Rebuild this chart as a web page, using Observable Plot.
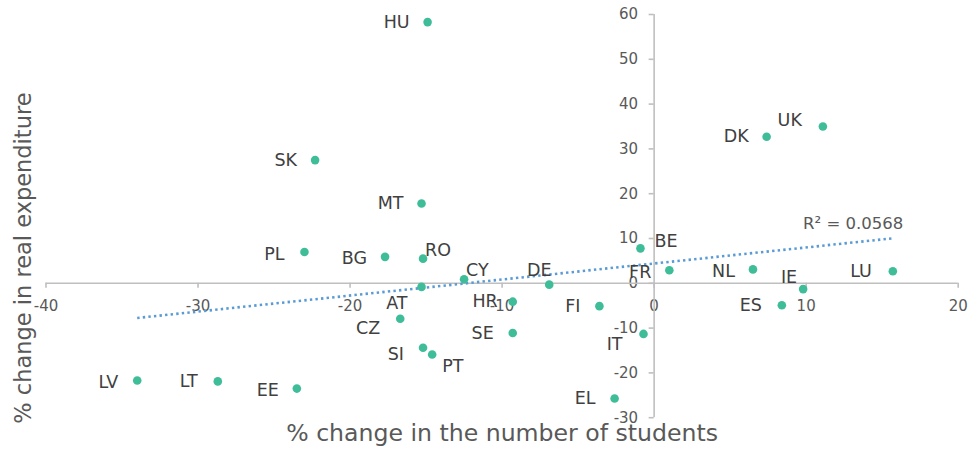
<!DOCTYPE html>
<html>
<head>
<meta charset="utf-8">
<script src="https://cdn.jsdelivr.net/npm/d3@7"></script>
<script src="https://cdn.jsdelivr.net/npm/@observablehq/plot@0.6"></script>
<style>
  html, body { margin: 0; padding: 0; background: #ffffff; }
  #chart { width: 969px; height: 453px; overflow: hidden; }
</style>
</head>
<body>
<div id="chart"></div>
<script>
// ---- Data ----
const countries = ["HU","SK","MT","DK","UK","PL","BG","RO","CY","AT","CZ","SI","PT","LV","LT","EE","HR","SE","DE","FI","BE","FR","IT","EL","NL","IE","ES","LU"];
const studentsChange = [-14.9,-22.3,-15.3,7.4,11.1,-23.0,-17.7,-15.2,-12.5,-15.3,-16.7,-15.2,-14.6,-34.0,-28.7,-23.5,-9.3,-9.3,-6.9,-3.6,-0.9,1.0,-0.7,-2.6,6.5,9.8,8.4,15.7];
const expenditureChange = [58.3,27.5,17.8,32.7,35.0,7.0,5.9,5.5,0.9,-0.8,-7.9,-14.4,-15.9,-21.7,-21.9,-23.5,-4.1,-11.1,-0.3,-5.1,7.8,2.9,-11.3,-25.7,3.1,-1.3,-4.9,2.7];
const xTickValues = [-40,-30,-20,-10,0,10,20];
const yTickValues = [-30,-20,-10,0,10,20,30,40,50,60];
const xTitle = "% change in the number of students";
const yTitle = "% change in real expenditure";
const r2Label = "R² = 0.0568";

// ---- Label placement (layout only) ----
const labelPlacement = {
  HU:["end",-18,0], SK:["end",-18,0], MT:["end",-18,0], DK:["end",-18,0],
  UK:["end",-21,-6], PL:["end",-20,2], BG:["end",-18,2], RO:["start",2,-8],
  CY:["start",2,-9], AT:["end",-14,17], CZ:["end",-20,10], SI:["end",-19,7],
  PT:["start",10,12], LV:["end",-19,2], LT:["end",-20,0], EE:["end",-18,2],
  HR:["end",-15,0], SE:["end",-19,0], DE:["middle",-10,-14], FI:["end",-19,0],
  BE:["start",14,-7], FR:["end",-18,2], IT:["end",-21,10], EL:["end",-19,0],
  NL:["end",-18,2], IE:["end",-6,-12], ES:["end",-20,0], LU:["end",-21,0]
};

const data = countries.map((c, i) => ({country: c, x: studentsChange[i], y: expenditureChange[i]}));

const axisColor = "#bfbfbf";
const tickTextColor = "#595959";
const labelColor = "#404040";
const dotColor = "#3fbd99";
const trendColor = "#5b9bd5";

const labelMarks = data.map(d => {
  const [anchor, dx, dy] = labelPlacement[d.country];
  return Plot.text([d], {x: "x", y: "y", text: "country", textAnchor: anchor, dx, dy,
    fill: labelColor, fontSize: 17.5, lineAnchor: "middle"});
});

const chart = Plot.plot({
  width: 969,
  height: 453,
  marginLeft: 45.5,
  marginRight: 11.3,
  marginTop: 14,
  marginBottom: 35.8,
  style: {fontFamily: "'DejaVu Sans', Verdana, sans-serif", background: "#ffffff", overflow: "visible"},
  x: {domain: [-40, 20], axis: null},
  y: {domain: [-30, 60], axis: null},
  marks: [
    // tick labels
    Plot.text(xTickValues, {x: d => d, y: () => 0, text: d => String(d), dy: 23, fill: tickTextColor, fontSize: 15, textAnchor: "middle"}),
    Plot.text(yTickValues, {x: () => 0, y: d => d, text: d => String(d), dx: -16, fill: tickTextColor, fontSize: 15, textAnchor: "end"}),
    // axis lines
    Plot.ruleY([0], {stroke: axisColor, strokeWidth: 1.6}),
    Plot.ruleX([0], {stroke: axisColor, strokeWidth: 1.6}),
    // tick marks
    Plot.ruleX(xTickValues, {x: d => d, y1: () => 0, y2: () => 0, insetBottom: -5, stroke: axisColor, strokeWidth: 1.6}),
    Plot.ruleY(yTickValues, {y: d => d, x1: () => 0, x2: () => 0, insetLeft: -5, stroke: axisColor, strokeWidth: 1.6}),
    // trend line
    Plot.linearRegressionY(data, {x: "x", y: "y", ci: 0, stroke: trendColor, strokeWidth: 2.6, strokeDasharray: "2.4 3.2", strokeLinecap: "butt"}),
    // points
    Plot.dot(data, {x: "x", y: "y", r: 4.3, fill: dotColor, stroke: "none"}),
    ...labelMarks,
    // R² annotation
    Plot.text([r2Label], {text: d => d, frameAnchor: "top-right", dx: -55, dy: 203, textAnchor: "end", fill: "#595959", fontSize: 16.5}),
    // axis titles
    Plot.text([xTitle], {text: d => d, frameAnchor: "bottom", dy: 23, fill: "#595959", fontSize: 23.6, textAnchor: "middle"}),
    Plot.text([yTitle], {text: d => d, frameAnchor: "left", dx: -22, dy: 42, rotate: -90, fill: "#595959", fontSize: 22.5, textAnchor: "middle"})
  ]
});
document.getElementById("chart").appendChild(chart);
</script>
</body>
</html>
